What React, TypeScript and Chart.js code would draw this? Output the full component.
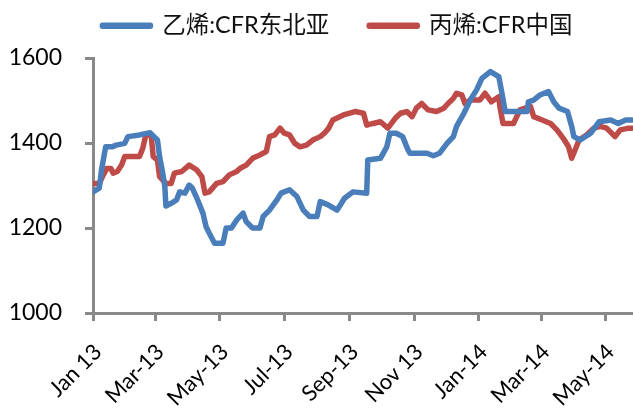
import React, { useEffect, useRef } from "react";
import { Chart, registerables } from "chart.js";

Chart.register(...registerables);

// Series names (legend)
const seriesNames = ["乙烯:CFR东北亚", "丙烯:CFR中国"];

// x axis: days since 1 Jan 2013; ticks at the start of every second month
const xMaxDay = 511;
const monthTickDays = [0, 59, 120, 181, 243, 304, 365, 424, 485];
const monthTickLabels = ["Jan 13", "Mar-13", "May-13", "Jul-13", "Sep-13", "Nov 13", "Jan-14", "Mar-14", "May-14"];

// y axis
const yMin = 1000;
const yMax = 1600;
const yStep = 200;

// 乙烯:CFR东北亚 (days since 1 Jan 2013, USD/t)
const ethyleneDays = [
  0, 6, 8, 12, 18, 22, 30, 33, 44, 54, 56, 61, 63, 66, 68, 69, 74, 79, 82, 87,
  91, 94, 99, 104, 107, 110, 115, 123, 126, 131, 136, 142, 145, 151, 158, 161, 167, 174, 178, 186,
  193, 199, 205, 212, 215, 222, 231, 238, 246, 259, 260, 272, 278, 281, 287, 293, 298, 300, 316, 322,
  328, 335, 341, 344, 351, 357, 363, 368, 376, 384, 387, 390, 411, 412, 417, 423, 431, 436, 441, 449,
  453, 455, 461, 471, 479, 490, 497, 504, 510,
];
const ethyleneValues = [
  1285, 1294, 1336, 1391, 1391, 1395, 1399, 1415, 1419, 1424, 1419, 1407, 1368, 1329, 1297, 1252, 1258, 1266, 1285, 1282,
  1301, 1294, 1266, 1235, 1203, 1188, 1164, 1164, 1200, 1200, 1219, 1235, 1215, 1200, 1200, 1227, 1242, 1266, 1282, 1290,
  1274, 1242, 1227, 1227, 1262, 1255, 1242, 1270, 1285, 1282, 1360, 1364, 1391, 1423, 1423, 1415, 1384, 1376, 1376, 1370,
  1376, 1399, 1415, 1439, 1470, 1501, 1525, 1552, 1568, 1556, 1517, 1474, 1474, 1497, 1501, 1513, 1521, 1497, 1482, 1474,
  1439, 1415, 1407, 1423, 1450, 1454, 1446, 1454, 1454,
];

// 丙烯:CFR中国 (days since 1 Jan 2013, USD/t)
const propyleneDays = [
  0, 6, 9, 13, 17, 19, 23, 27, 30, 44, 47, 50, 55, 57, 61, 63, 69, 74, 77, 84,
  91, 98, 103, 106, 110, 117, 123, 129, 136, 139, 145, 151, 158, 164, 167, 172, 177, 181, 186, 191,
  196, 202, 208, 215, 219, 223, 227, 237, 248, 256, 259, 265, 272, 279, 286, 291, 297, 302, 306, 311,
  317, 325, 332, 336, 341, 344, 349, 352, 357, 366, 371, 377, 384, 385, 388, 398, 404, 414, 417, 425,
  433, 439, 445, 450, 453, 460, 467, 474, 480, 486, 494, 499, 507, 510,
];
const propyleneValues = [
  1305, 1305, 1321, 1340, 1340, 1329, 1333, 1348, 1368, 1368, 1387, 1419, 1419, 1368, 1360, 1321, 1305, 1305, 1329, 1333,
  1348, 1337, 1321, 1282, 1285, 1305, 1309, 1325, 1333, 1340, 1348, 1364, 1372, 1380, 1415, 1419, 1435, 1423, 1419, 1399,
  1391, 1395, 1407, 1415, 1423, 1435, 1454, 1466, 1474, 1470, 1442, 1446, 1450, 1435, 1458, 1470, 1474, 1462, 1482, 1493,
  1478, 1474, 1482, 1493, 1505, 1517, 1513, 1493, 1501, 1501, 1517, 1497, 1509, 1486, 1446, 1446, 1478, 1486, 1462, 1454,
  1446, 1431, 1411, 1391, 1364, 1407, 1419, 1435, 1439, 1435, 1415, 1431, 1435, 1435,
];

const BLUE = "#4A7EBB";
const RED = "#BE4B48";
const AXIS = "#898989";
const FONT = "Lato, 'Noto Sans CJK SC', sans-serif";

const toPoints = (days: number[], values: number[]) =>
  days.map((d, i) => ({ x: d, y: values[i] }));

const legendTweak = {
  id: "legendTweak",
  beforeInit(chart: any) {
    const legend = chart.legend;
    if (!legend) return;
    const origFit = legend.fit;
    legend.fit = function () {
      origFit.call(this);
      this.height = 58;
    };
  },
  afterLayout(chart: any) {
    const l = chart.legend;
    if (!l) return;
    l.top -= 26;
    l.left += 21;
    l.right += 21;
  },
};

export default function App() {
  const canvasRef = useRef<HTMLCanvasElement | null>(null);

  useEffect(() => {
    if (!canvasRef.current) return;
    Chart.defaults.font.family = FONT;
    Chart.defaults.color = "#000";
    const chart = new Chart(canvasRef.current, {
      type: "line",
      data: {
        datasets: [
          {
            label: seriesNames[0],
            data: toPoints(ethyleneDays, ethyleneValues),
            borderColor: BLUE,
            backgroundColor: BLUE,
            borderWidth: 5.5,
            pointRadius: 0,
            tension: 0,
            borderJoinStyle: "round",
            borderCapStyle: "round",
          },
          {
            label: seriesNames[1],
            data: toPoints(propyleneDays, propyleneValues),
            borderColor: RED,
            backgroundColor: RED,
            borderWidth: 5.5,
            pointRadius: 0,
            tension: 0,
            borderJoinStyle: "round",
            borderCapStyle: "round",
          },
        ],
      },
      options: {
        animation: false,
        responsive: true,
        maintainAspectRatio: false,
        layout: { padding: 0 },
        plugins: {
          tooltip: { enabled: false },
          legend: {
            position: "top",
            labels: {
              boxWidth: 48,
              boxHeight: 1,
              padding: 40,
              font: { size: 23.5, family: FONT },
              color: "#111",
            },
          },
        },
        scales: {
          x: {
            type: "linear",
            min: 0,
            max: xMaxDay,
            afterBuildTicks: (scale: any) => {
              scale.ticks = monthTickDays.map((v) => ({ value: v }));
            },
            afterFit: (scale: any) => {
              scale.height = 95;
              scale.paddingLeft = 0;
              scale.paddingRight = 0;
            },
            ticks: {
              autoSkip: false,
              minRotation: 45,
              maxRotation: 45,
              padding: 18,
              labelOffset: 5,
              font: { size: 22, family: FONT },
              color: "#000",
              callback: (_v: any, i: number) => monthTickLabels[i],
            },
            grid: {
              display: true,
              drawOnChartArea: false,
              drawTicks: true,
              tickLength: 8,
              color: AXIS,
              lineWidth: 3,
            },
            border: { display: true, color: AXIS, width: 3 },
          },
          y: {
            min: yMin,
            max: yMax,
            afterFit: (scale: any) => {
              scale.width = 93;
            },
            ticks: {
              stepSize: yStep,
              padding: 23,
              font: { size: 23, family: FONT },
              color: "#000",
              callback: (v: any) => String(v),
            },
            grid: {
              display: true,
              drawOnChartArea: false,
              drawTicks: true,
              tickLength: 8,
              color: AXIS,
              lineWidth: 3,
            },
            border: { display: true, color: AXIS, width: 3 },
          },
        },
      },
      plugins: [legendTweak],
    });
    return () => chart.destroy();
  }, []);

  return (
    <div style={{ position: "fixed", left: 0, top: 0, width: 633, height: 408, background: "#fff" }}>
      <canvas ref={canvasRef} />
    </div>
  );
}
